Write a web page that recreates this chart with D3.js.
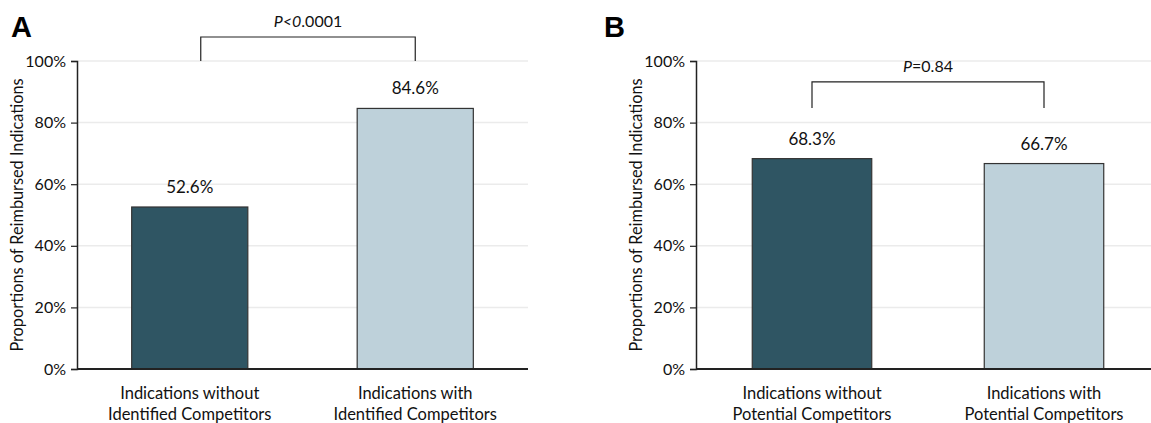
<!DOCTYPE html>
<html>
<head>
<meta charset="utf-8">
<script src="https://cdn.jsdelivr.net/npm/d3@7"></script>
<style>
  body { margin: 0; background: #fff; }
  svg { display: block; font-family: Lato, "Open Sans", sans-serif; }
</style>
</head>
<body>
<div id="chart"></div>
<script>
// data
const categoriesA = [
  ["Indications without", "Identified Competitors"],
  ["Indications with", "Identified Competitors"]
];
const categoriesB = [
  ["Indications without", "Potential Competitors"],
  ["Indications with", "Potential Competitors"]
];
const valuesA = [52.6, 84.6];
const valuesB = [68.3, 66.7];
const yTicks = [0, 20, 40, 60, 80, 100];
const barColors = ["#2f5563", "#bed1da"];
const pTextA = ["P<0", ".0001"];
const pTextB = ["P", "=0.84"];
const bracketA = [107.8, 100];   // top, bottom (in % units)
const bracketB = [93.2, 84.7];

const W = 1151, H = 423;
const svg = d3.select("#chart").append("svg")
  .attr("width", W)
  .attr("height", H);

const y = d3.scaleLinear().domain([0, 100]).range([369, 61]);

function panel(opts) {
  const g = svg.append("g");
  const keys = opts.cats.map((d, i) => i);
  const x = d3.scaleBand()
    .domain(keys)
    .range(opts.xRange)
    .paddingInner(0.485)
    .paddingOuter(0.2425);

  // gridlines
  g.selectAll("line.grid")
    .data(yTicks.filter(d => d > 0))
    .enter().append("line")
    .attr("class", "grid")
    .attr("x1", opts.xRange[0]).attr("x2", opts.gridEnd)
    .attr("y1", d => y(d)).attr("y2", d => y(d))
    .attr("stroke", "#ebebeb")
    .attr("stroke-width", 1.5);

  // bars
  g.selectAll("rect.bar")
    .data(opts.values)
    .enter().append("rect")
    .attr("class", "bar")
    .attr("x", (d, i) => x(i))
    .attr("width", x.bandwidth())
    .attr("y", d => y(d))
    .attr("height", d => y(0) - y(d))
    .attr("fill", (d, i) => barColors[i])
    .attr("stroke", "#333")
    .attr("stroke-width", 1.2);

  // value labels
  g.selectAll("text.val")
    .data(opts.values)
    .enter().append("text")
    .attr("class", "val")
    .attr("x", (d, i) => x(i) + x.bandwidth() / 2)
    .attr("y", d => y(d) - 14)
    .attr("text-anchor", "middle")
    .style("font-size", "17px")
    .style("fill", "#111")
    .text(d => d.toFixed(1) + "%");

  // y axis
  const yAxis = g.append("g")
    .attr("transform", `translate(${opts.xRange[0]},0)`)
    .call(d3.axisLeft(y).tickValues(yTicks).tickSize(6).tickPadding(5).tickFormat(d => d + "%"));
  yAxis.select(".domain").attr("stroke", "#222").attr("stroke-width", 1.5);
  yAxis.selectAll(".tick line").attr("stroke", "#222").attr("stroke-width", 1.2);
  yAxis.selectAll(".tick text")
    .style("font-size", "16px")
    .style("font-family", "Lato, sans-serif")
    .attr("fill", "#111");

  // x axis line
  g.append("line")
    .attr("x1", opts.xRange[0]).attr("x2", opts.gridEnd)
    .attr("y1", y(0)).attr("y2", y(0))
    .attr("stroke", "#222")
    .attr("stroke-width", 2);

  // category labels
  opts.cats.forEach((lines, i) => {
    const t = g.append("text")
      .attr("x", x(i) + x.bandwidth() / 2)
      .attr("y", 399)
      .attr("text-anchor", "middle")
      .style("font-size", "16.5px")
      .style("fill", "#111");
    lines.forEach((ln, j) => {
      t.append("tspan")
        .attr("x", x(i) + x.bandwidth() / 2)
        .attr("dy", j === 0 ? 0 : 21)
        .text(ln);
    });
  });

  // y axis title
  g.append("text")
    .attr("transform", `translate(${opts.xRange[0] - 54},${(y(0) + y(100)) / 2}) rotate(-90)`)
    .attr("text-anchor", "middle")
    .style("font-size", "16.3px")
    .style("fill", "#111")
    .text("Proportions of Reimbursed Indications");

  // significance bracket
  const bx1 = x(0) + x.bandwidth() / 2 + opts.bracketDx;
  const bx2 = x(1) + x.bandwidth() / 2;
  const [top, bot] = opts.bracket;
  g.append("path")
    .attr("d", `M${bx1},${y(bot)}V${y(top)}H${bx2}V${y(bot)}`)
    .attr("fill", "none")
    .attr("stroke", "#222")
    .attr("stroke-width", 1.2);

  const pt = g.append("text")
    .attr("x", (bx1 + bx2) / 2)
    .attr("y", y(top) - 10)
    .attr("text-anchor", "middle")
    .style("font-size", "16px")
    .style("fill", "#111");
  pt.append("tspan").style("font-style", "italic").text(opts.pText[0]);
  pt.append("tspan").text(opts.pText[1]);

  // panel letter
  svg.append("text")
    .attr("x", opts.letterX)
    .attr("y", 37)
    .style("font-family", "'Liberation Sans', Arial, sans-serif")
    .style("font-weight", "bold")
    .style("font-size", "29px")
    .style("fill", "#000")
    .text(opts.letter);
}

panel({
  cats: categoriesA, values: valuesA, xRange: [77, 528], gridEnd: 528,
  bracket: bracketA, bracketDx: 11, pText: pTextA, letter: "A", letterX: 11
});
panel({
  cats: categoriesB, values: valuesB, xRange: [696, 1160], gridEnd: 1160,
  bracket: bracketB, bracketDx: 0, pText: pTextB, letter: "B", letterX: 604
});
</script>
</body>
</html>
